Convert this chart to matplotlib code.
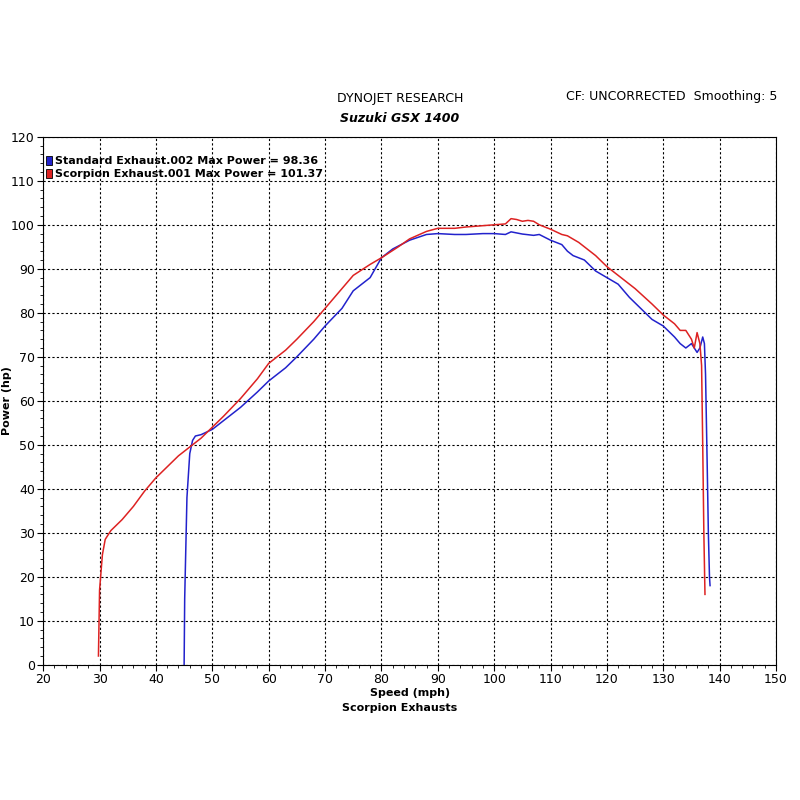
import matplotlib.pyplot as plt
from matplotlib.patches import Rectangle

# speed (mph) / power (hp)
std_speed = [45.0, 45.1, 45.5, 46.0, 46.5, 47.0, 48, 50, 52, 55, 58, 60, 63, 65, 68, 70, 73, 75, 77, 78,
             80, 82, 85, 88, 90, 93, 95, 98, 100, 102, 103, 105, 107, 108, 110, 112, 113, 114, 116, 118,
             120, 122, 124, 126, 128, 130, 132, 133, 134, 135, 136, 136.5, 137, 137.3, 137.5, 137.8, 138.0, 138.2, 138.3]
std_power = [0, 15, 38, 48, 51, 52, 52.3, 53.5, 55.5, 58.5, 62, 64.5, 67.5, 70, 74, 77, 81, 85, 87, 88,
             92.5, 94.5, 96.5, 97.8, 98, 97.8, 97.8, 98, 98, 97.8, 98.4, 97.9, 97.6, 97.8, 96.5, 95.5, 94, 93, 92, 89.5,
             88, 86.5, 83.5, 81, 78.5, 77, 74.5, 73, 72, 73, 71, 72, 74.5, 73, 66, 45, 30, 20, 18]

sco_speed = [29.8, 30.0, 30.5, 31.0, 32, 34, 36, 38, 40, 42, 44, 46, 48, 50, 52, 55, 58, 60, 63, 65, 68, 70,
             73, 75, 78, 80, 83, 85, 88, 90, 93, 95, 98, 100, 102, 103, 104, 105, 106, 107, 108, 110, 112, 113,
             115, 118, 120, 122, 125, 128, 130, 132, 133, 134, 135, 135.5, 136, 136.5, 136.8, 137.0, 137.2, 137.4]
sco_power = [2, 17, 25, 28.5, 30.5, 33, 36, 39.5, 42.5, 45, 47.5, 49.5, 51.5, 54, 56.5, 60.5, 65, 68.5, 71.5, 74, 78, 81,
             85.5, 88.5, 91, 92.5, 95, 96.8, 98.5, 99.2, 99.2, 99.5, 99.8, 100, 100.2, 101.4, 101.2, 100.8, 101, 100.8, 100, 99, 97.8, 97.5,
             96, 93, 90.5, 88.5, 85.5, 82, 79.5, 77.5, 76, 76, 74, 72, 75.5, 73, 68, 50, 30, 16]

fig = plt.figure(figsize=(8, 8), dpi=100)
ax = fig.add_axes([0.054, 0.169, 0.916, 0.66])

ax.plot(std_speed, std_power, color='#2222cc', lw=1.1)
ax.plot(sco_speed, sco_power, color='#dd2222', lw=1.1)

ax.set_xlim(20, 150)
ax.set_ylim(0, 120)
ax.set_xticks(range(20, 151, 10))
ax.set_yticks(range(0, 121, 10))
ax.set_xticks(range(20, 151, 2), minor=True)
ax.set_yticks(range(0, 121, 2), minor=True)
ax.tick_params(labelsize=9, direction='out', length=4, pad=2)
ax.tick_params(which='minor', length=2)
ax.grid(True, color='black', linestyle=(0, (2, 2)), lw=0.8)

ax.set_xlabel('Speed (mph)', fontsize=8, fontweight='bold', labelpad=1)
ax.set_ylabel('Power (hp)', fontsize=8, fontweight='bold')
ax.yaxis.set_label_coords(-0.043, 0.5)

# legend entries with small coloured boxes
for i, (col, txt) in enumerate([('#2222cc', 'Standard Exhaust.002 Max Power = 98.36'),
                                ('#dd2222', 'Scorpion Exhaust.001 Max Power = 101.37')]):
    yy = 0.955 - i * 0.025
    ax.add_patch(Rectangle((0.004, yy - 0.008), 0.008, 0.017, transform=ax.transAxes,
                           facecolor=col, edgecolor='black', lw=0.6, zorder=5))
    ax.text(0.016, yy, txt, transform=ax.transAxes, fontsize=8, fontweight='bold',
            va='center', zorder=5)

fig.text(0.5, 0.877, 'DYNOJET RESEARCH', ha='center', va='center', fontsize=9)
fig.text(0.5, 0.852, 'Suzuki GSX 1400', ha='center', va='center', fontsize=9,
         fontweight='bold', style='italic')
fig.text(0.972, 0.879, 'CF: UNCORRECTED  Smoothing: 5', ha='right', va='center', fontsize=9)
fig.text(0.5, 0.115, 'Scorpion Exhausts', ha='center', va='center', fontsize=8, fontweight='bold')

fig.savefig('out.png', dpi=100)
